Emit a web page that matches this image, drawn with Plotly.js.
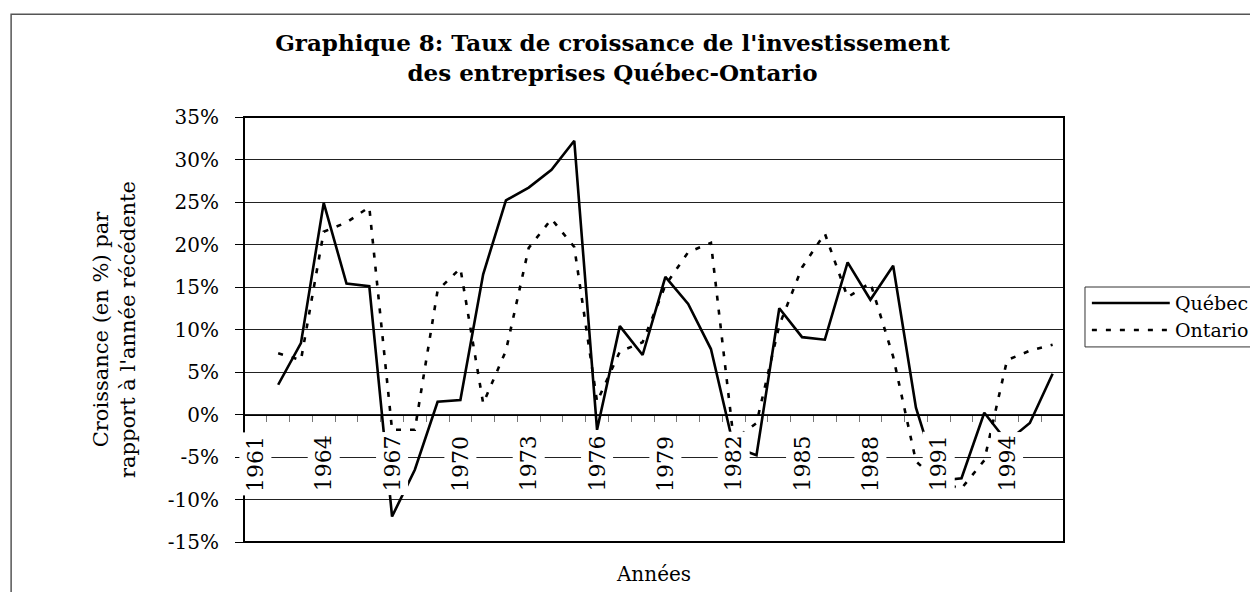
<!DOCTYPE html>
<html>
<head>
<meta charset="utf-8">
<script src="https://cdn.plot.ly/plotly-3.0.1.min.js"></script>
<style>
  html, body { margin: 0; padding: 0; background: #ffffff; }
  #chart { width: 1250px; height: 592px; }
</style>
</head>
<body>
<div id="chart"></div>
<script>
// ---- Data ----
const years = [1961, 1962, 1963, 1964, 1965, 1966, 1967, 1968, 1969, 1970,
               1971, 1972, 1973, 1974, 1975, 1976, 1977, 1978, 1979, 1980,
               1981, 1982, 1983, 1984, 1985, 1986, 1987, 1988, 1989, 1990,
               1991, 1992, 1993, 1994, 1995, 1996];
const quebec = [null, 3.5, 8.4, 24.9, 15.4, 15.1, -12.0, -6.5, 1.5, 1.7,
                16.5, 25.2, 26.7, 28.8, 32.2, -1.8, 10.4, 7.0, 16.2, 13.0,
                7.7, -3.8, -4.8, 12.5, 9.1, 8.8, 17.9, 13.5, 17.5, 0.8,
                -7.8, -7.5, 0.2, -3.2, -1.0, 4.8];
const ontario = [null, 7.2, 6.4, 21.5, 22.6, 24.4, -1.8, -1.8, 14.6, 17.2,
                 1.3, 7.5, 19.6, 23.0, 19.7, 1.5, 7.4, 8.5, 15.2, 19.1,
                 20.2, -3.0, -1.0, 10.5, 17.3, 21.3, 13.8, 15.5, 6.8, -5.5,
                 -8.0, -8.7, -5.4, 6.4, 7.5, 8.2];
const xTickLabels = ['1961', '1964', '1967', '1970', '1973', '1976',
                     '1979', '1982', '1985', '1988', '1991', '1994'];
const yTickVals = [-15, -10, -5, 0, 5, 10, 15, 20, 25, 30, 35];
const yTickLabels = ['-15%', '-10%', '-5%', '0%', '5%', '10%', '15%', '20%', '25%', '30%', '35%'];
const seriesNames = ['Québec', 'Ontario'];
const titleText = 'Graphique 8: Taux de croissance de l\'investissement<br>des entreprises Québec-Ontario';
const yTitleText = 'Croissance (en %) par<br>rapport à l\'année récédente';
const xTitleText = 'Années';

// ---- Styles ----
const FONT = 'DejaVu Serif, Liberation Serif, serif';
const quebecLine = { color: '#000000', width: 2.6, dash: 'solid' };
const ontarioLine = { color: '#000000', width: 2.6, dash: '5px,9px' };

const traces = [
  { x: years, y: quebec, name: seriesNames[0], type: 'scatter', mode: 'lines',
    line: quebecLine, connectgaps: false, showlegend: false, hoverinfo: 'x+y+name' },
  { x: years, y: ontario, name: seriesNames[1], type: 'scatter', mode: 'lines',
    line: ontarioLine, connectgaps: false, showlegend: false, hoverinfo: 'x+y+name' }
];

const xRange = [years[0] - 0.5, years[years.length - 1] + 0.5];
const yRange = [yTickVals[0], yTickVals[yTickVals.length - 1]];
const zeroPos = (0 - yRange[0]) / (yRange[1] - yRange[0]);

// x category labels drawn on white boxes below the 0% line (they mask the grid)
const tickAnnotations = xTickLabels.map(t => ({
  x: Number(t), y: 0, xref: 'x', yref: 'y',
  text: t, textangle: -90, showarrow: false,
  xanchor: 'center', yanchor: 'top', yshift: -17,
  bgcolor: '#ffffff', borderpad: 3,
  font: { family: FONT, size: 22, color: '#000000' }
}));

// custom legend (long line samples, like the original)
const legendAnnotations = [
  { xref: 'paper', yref: 'paper', x: 1.133, y: 0.5624, xanchor: 'left', yanchor: 'middle',
    text: seriesNames[0], showarrow: false, font: { family: FONT, size: 19, color: '#000' } },
  { xref: 'paper', yref: 'paper', x: 1.133, y: 0.4988, xanchor: 'left', yanchor: 'middle',
    text: seriesNames[1], showarrow: false, font: { family: FONT, size: 19, color: '#000' } }
];
const legendShapes = [
  { type: 'rect', xref: 'paper', yref: 'paper', x0: 1.0256, x1: 1.24, y0: 0.459, y1: 0.600,
    line: { color: '#333333', width: 1 }, fillcolor: 'rgba(0,0,0,0)' },
  { type: 'line', xref: 'paper', yref: 'paper', x0: 1.034, x1: 1.129, y0: 0.5624, y1: 0.5624,
    line: quebecLine },
  { type: 'line', xref: 'paper', yref: 'paper', x0: 1.034, x1: 1.129, y0: 0.4988, y1: 0.4988,
    line: ontarioLine }
];

const layout = {
  width: 1250, height: 592,
  paper_bgcolor: '#ffffff', plot_bgcolor: '#ffffff',
  margin: { l: 244, r: 186, t: 117, b: 50, pad: 0 },
  font: { family: FONT, size: 20, color: '#000000' },
  title: {
    text: titleText,
    font: { family: FONT, size: 23, color: '#000000', weight: 'bold' },
    x: 0.49, xanchor: 'center', y: 0.914, yanchor: 'top'
  },
  showlegend: false,
  xaxis: {
    type: 'linear', range: xRange, showgrid: false, zeroline: false,
    showline: false, ticks: '', showticklabels: false, fixedrange: true,
    title: { text: xTitleText, font: { family: FONT, size: 20 }, standoff: 24 }
  },
  xaxis2: {
    type: 'linear', range: xRange, overlaying: 'x', anchor: 'free', position: zeroPos,
    showgrid: false, zeroline: false, showline: true, linecolor: '#000', linewidth: 1,
    ticks: 'outside', tick0: xRange[0], dtick: 1, ticklen: 6, tickcolor: '#777', tickwidth: 1,
    showticklabels: false, fixedrange: true
  },
  yaxis: {
    range: yRange, tickmode: 'array', tickvals: yTickVals, ticktext: yTickLabels,
    showgrid: true, gridcolor: '#222222', gridwidth: 1, zeroline: false,
    showline: false, ticks: 'outside', ticklen: 8, tickcolor: '#000', tickwidth: 1,
    ticklabelstandoff: 12,
    tickfont: { family: FONT, size: 20, color: '#000' },
    title: { text: yTitleText, font: { family: FONT, size: 21, color: '#000' }, standoff: 26 },
    fixedrange: true
  },
  shapes: [
    // plot frame
    { type: 'rect', xref: 'paper', yref: 'paper', x0: 0, x1: 1, y0: 0, y1: 1,
      line: { color: '#000', width: 2 }, layer: 'above' },
    // outer chart border (scan frame)
    { type: 'rect', xref: 'paper', yref: 'paper', x0: -0.284, x1: 1.26, y0: -0.2, y1: 1.242,
      line: { color: '#555', width: 1.5 }, layer: 'below' }
  ].concat(legendShapes),
  annotations: tickAnnotations.concat(legendAnnotations)
};

// a dummy invisible trace on xaxis2 so that the axis gets drawn
traces.push({ x: xRange, y: [null, null], xaxis: 'x2', yaxis: 'y', type: 'scatter',
              mode: 'lines', showlegend: false, hoverinfo: 'skip' });

Plotly.newPlot('chart', traces, layout, { displayModeBar: false, staticPlot: true });
</script>
</body>
</html>
